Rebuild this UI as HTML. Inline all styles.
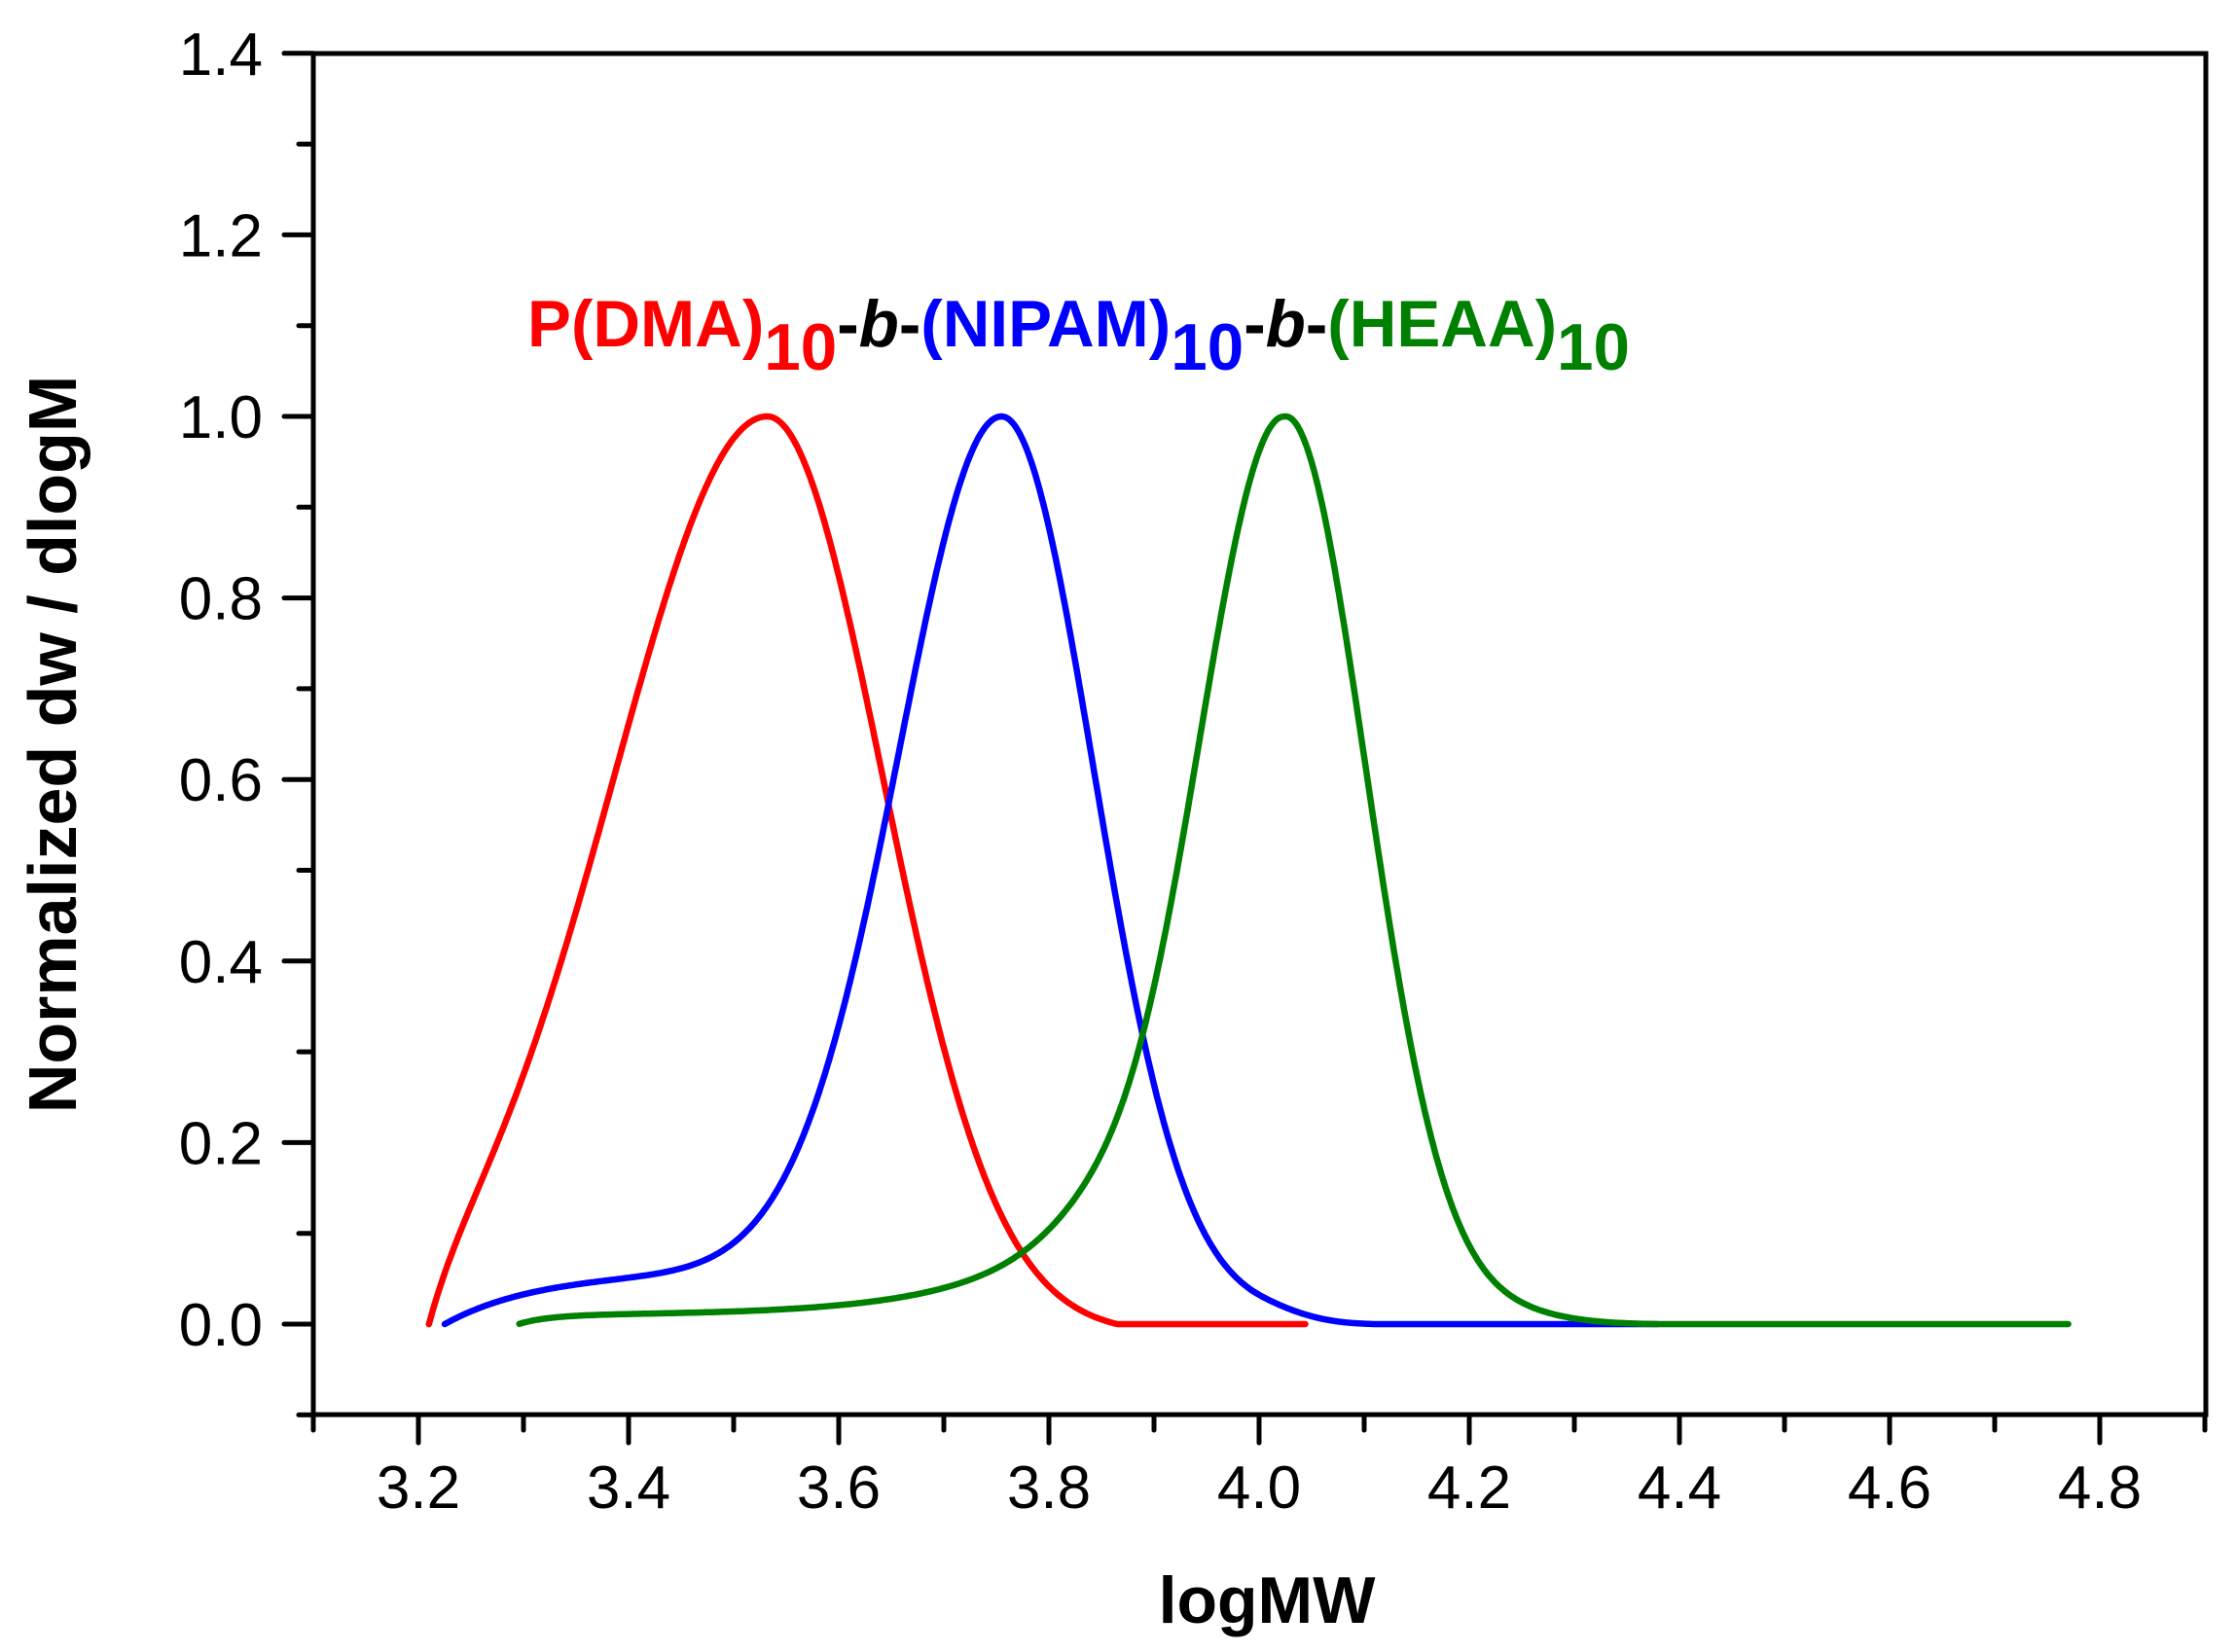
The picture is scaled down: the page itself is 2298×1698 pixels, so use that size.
<!DOCTYPE html>
<html><head><meta charset="utf-8"><style>
html,body{margin:0;padding:0;background:#fff;}
svg{display:block;}
text{font-family:"Liberation Sans",Arial,sans-serif;}
</style></head><body>
<svg id="s" width="2298" height="1698" viewBox="0 0 2298 1698" xmlns="http://www.w3.org/2000/svg">
<rect width="2298" height="1698" fill="#fff"/>
<g id="ticks" stroke="#000" stroke-width="5" stroke-linecap="round"></g>
<rect x="322" y="55" width="1945" height="1399" fill="none" stroke="#000" stroke-width="5"/>
<g id="labels" font-size="62" fill="#000"></g>
<g id="curves" fill="none" stroke-width="6.5" stroke-linecap="round" stroke-linejoin="round"></g>
<text x="1302" y="1668" font-size="68" font-weight="bold" text-anchor="middle">logMW</text>
<text transform="translate(78,765) rotate(-90)" font-size="70" font-weight="bold" text-anchor="middle">Normalized dw / dlogM</text>
<text x="542" y="356" font-size="68" font-weight="bold" textLength="1133" lengthAdjust="spacingAndGlyphs"><tspan fill="#ff0000">P(DMA)</tspan><tspan fill="#ff0000" dy="24">10</tspan><tspan fill="#000" dy="-24">-</tspan><tspan fill="#000" font-style="italic">b</tspan><tspan fill="#000">-</tspan><tspan fill="#0000ff">(NIPAM)</tspan><tspan fill="#0000ff" dy="24">10</tspan><tspan fill="#000" dy="-24">-</tspan><tspan fill="#000" font-style="italic">b</tspan><tspan fill="#000">-</tspan><tspan fill="#008000">(HEAA)</tspan><tspan fill="#008000" dy="24">10</tspan></text>
</svg>
<script>
const NS="http://www.w3.org/2000/svg";
const X=x=>322+(x-3.1)*1080, Y=v=>1361-v*933;
const tk=document.getElementById('ticks'), lb=document.getElementById('labels');
function line(x1,y1,x2,y2){const l=document.createElementNS(NS,'line');l.setAttribute('x1',x1);l.setAttribute('y1',y1);l.setAttribute('x2',x2);l.setAttribute('y2',y2);tk.appendChild(l);}
function txt(x,y,s,a){const t=document.createElementNS(NS,'text');t.setAttribute('x',x);t.setAttribute('y',y);t.setAttribute('text-anchor',a);t.textContent=s;lb.appendChild(t);}
for(let i=0;i<=18;i++){const x=X(3.1+i*0.1);const major=(i%2==1);line(x,1454,x,major?1483:1470);if(major)txt(x,1550,(3.1+i*0.1).toFixed(1),'middle');}
for(let i=0;i<=15;i++){const v=-0.1+i*0.1;const y=Y(v);const major=(i%2==1);line(322,y,major?292:307,y);if(major)txt(270,y+22,Math.abs(v)<1e-9?"0.0":v.toFixed(1),'end');}
const E=Math.exp;
function ag(x,m,sl,sr){const s=x<m?sl:sr;const z=(x-m)/s;return E(-(z*z)/2);}
const sig=(x,c,w)=>1/(1+E((x-c)/w));
const red=x=>{let g=ag(x,3.532,0.145,0.11);if(x>3.532){const e=ag(3.865,3.532,0.145,0.11);g=Math.max(0,(g-e)/(1-e));}else{g*=1-E(-(x-3.21)/0.02);}return g;};
const blueRaw=x=>{let g=ag(x,3.755,0.1,0.088);let r=1-E(-(x-3.225)/0.09);let TL=0.058*r*sig(x,3.6,0.04);let TR=0.012*ag(x,4.0,0.1,0.04);let v=g+TL+TR;if(x>3.755){const e=ag(4.11,3.755,0.1,0.088)+0.012*ag(4.11,4.0,0.1,0.04);v=Math.max(0,v-e*((x-3.755)/0.355));if(x>=4.11)v=0;}return v;};
let bmax=0;for(let x=3.7;x<3.8;x+=0.001)bmax=Math.max(bmax,blueRaw(x));
const blue=x=>blueRaw(x)/bmax;
const greenRaw=x=>{let g=ag(x,4.024,0.084,0.077);let T=(0.01+0.04*E((x-3.73)/0.1))*sig(x,3.85,0.03)*(1-E(-(x-3.295)/0.03));let R=x>4.024?0.015*sig(x,4.28,0.03)*(1-E(-(x-4.024)/0.05)):0;let v=g+T+R;if(x>4.024){const e=ag(4.38,4.024,0.084,0.077)+0.015*sig(4.38,4.28,0.03);v=Math.max(0,v-e*Math.min(1,(x-4.024)/0.356));if(x>=4.38)v=0;}return v;};
let gmax=0;for(let x=3.98;x<4.07;x+=0.001)gmax=Math.max(gmax,greenRaw(x));
const green=x=>greenRaw(x)/gmax;
const cg=document.getElementById('curves');
function draw(f,a,b,c){let d="";for(let x=a;x<=b+1e-9;x+=0.002){d+=(d?"L":"M")+X(x).toFixed(1)+","+Y(f(x)).toFixed(1);}
const pa=document.createElementNS(NS,'path');pa.setAttribute('d',d);pa.setAttribute('stroke',c);cg.appendChild(pa);}
draw(red,3.21,4.045,"#ff0000");
draw(blue,3.225,4.38,"#0000ff");
draw(green,3.296,4.77,"#008000");
</script>
</body></html>
